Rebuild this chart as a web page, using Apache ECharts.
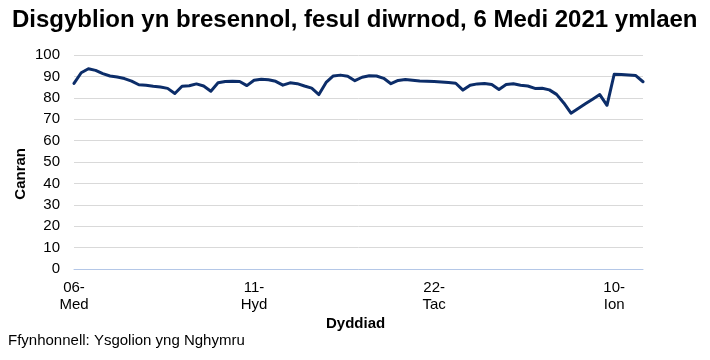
<!DOCTYPE html>
<html>
<head>
<meta charset="utf-8">
<script src="https://cdn.jsdelivr.net/npm/echarts@6/dist/echarts.min.js"></script>
<style>html,body{margin:0;padding:0;background:#fff}#c{width:710px;height:360px}</style>
</head>
<body>
<div id="c"></div>
<script>
const titleText = 'Disgyblion yn bresennol, fesul diwrnod, 6 Medi 2021 ymlaen';
const yName = 'Canran';
const xName = 'Dyddiad';
const sourceText = 'Ffynhonnell: Ysgolion yng Nghymru';
const dates = [
  '06-Med','07-Med','08-Med','09-Med','10-Med',
  '13-Med','14-Med','15-Med','16-Med','17-Med',
  '20-Med','21-Med','22-Med','23-Med','24-Med',
  '27-Med','28-Med','29-Med','30-Med','01-Hyd',
  '04-Hyd','05-Hyd','06-Hyd','07-Hyd','08-Hyd',
  '11-Hyd','12-Hyd','13-Hyd','14-Hyd','15-Hyd',
  '18-Hyd','19-Hyd','20-Hyd','21-Hyd','22-Hyd',
  '01-Tac','02-Tac','03-Tac','04-Tac','05-Tac',
  '08-Tac','09-Tac','10-Tac','11-Tac','12-Tac',
  '15-Tac','16-Tac','17-Tac','18-Tac','19-Tac',
  '22-Tac','23-Tac','24-Tac','25-Tac','26-Tac',
  '29-Tac','30-Tac','01-Rha','02-Rha','03-Rha',
  '06-Rha','07-Rha','08-Rha','09-Rha','10-Rha',
  '13-Rha','14-Rha','15-Rha','16-Rha','17-Rha',
  '20-Rha','21-Rha','05-Ion','06-Ion','07-Ion',
  '10-Ion','11-Ion','12-Ion','13-Ion','14-Ion'
];
const attendance = [
  86.7, 91.7, 93.6, 92.8, 91.3,
  90.2, 89.7, 89.0, 87.8, 86.1,
  85.9, 85.4, 85.0, 84.4, 82.0,
  85.4, 85.6, 86.5, 85.5, 83.1,
  87.0, 87.6, 87.7, 87.6, 85.7,
  88.2, 88.7, 88.4, 87.7, 85.9,
  87.0, 86.6, 85.5, 84.5, 81.5,
  87.2, 90.2, 90.6, 90.1, 88.0,
  89.6, 90.3, 90.2, 89.1, 86.6,
  88.1, 88.5, 88.2, 87.8, 87.7,
  87.6, 87.4, 87.1, 86.8, 83.6,
  85.9, 86.5, 86.7, 86.2, 83.9,
  86.2, 86.6, 85.9, 85.5, 84.4,
  84.5, 83.7, 81.6, 77.6, 72.8,
  75.0, 77.2, 79.3, 81.5, 76.5,
  91.0, 90.9, 90.7, 90.4, 87.5
];
const labelEvery = 25;
const yMin = 0, yMax = 100, yStep = 10;

const font = '"Liberation Sans", Arial, sans-serif';
const chart = echarts.init(document.getElementById('c'), null, {renderer: 'canvas'});
chart.setOption({
  animation: false,
  backgroundColor: '#ffffff',
  title: {
    text: titleText, left: 7, top: 3,
    textStyle: {fontFamily: font, fontSize: 24, fontWeight: 'bold', color: '#000'}
  },
  grid: {left: 74, right: 67, top: 55, bottom: 91, containLabel: false},
  xAxis: {
    type: 'category', data: dates, boundaryGap: false,
    axisLine: {show: true, lineStyle: {color: '#b4c7e7', width: 1}},
    axisTick: {show: false},
    axisLabel: {
      interval: function (i) { return i % labelEvery === 0; },
      formatter: function (v) { const p = v.split('-'); return p[0] + '-\n' + p[1]; },
      fontFamily: font, fontSize: 15, color: '#000', lineHeight: 17, margin: 10
    },
    splitLine: {show: false}
  },
  yAxis: {
    type: 'value', min: yMin, max: yMax, interval: yStep,
    axisLine: {show: false}, axisTick: {show: false},
    axisLabel: {fontFamily: font, fontSize: 15, color: '#000', margin: 14},
    splitLine: {lineStyle: {color: '#d9d9d9', width: 1}}
  },
  graphic: [
    {type: 'text', left: 13, top: 148, rotation: Math.PI / 2,
     style: {text: yName, font: 'bold 15px ' + font, fill: '#000'}},
    {type: 'text', left: 326, top: 316,
     style: {text: xName, font: 'bold 15px ' + font, fill: '#000'}},
    {type: 'text', left: 8, top: 333,
     style: {text: sourceText, font: '15px ' + font, fill: '#000'}}
  ],
  series: [{
    type: 'line', data: attendance, showSymbol: false, smooth: false,
    lineStyle: {color: '#0c2d69', width: 3, join: 'round', cap: 'round'}
  }]
});
</script>
</body>
</html>
